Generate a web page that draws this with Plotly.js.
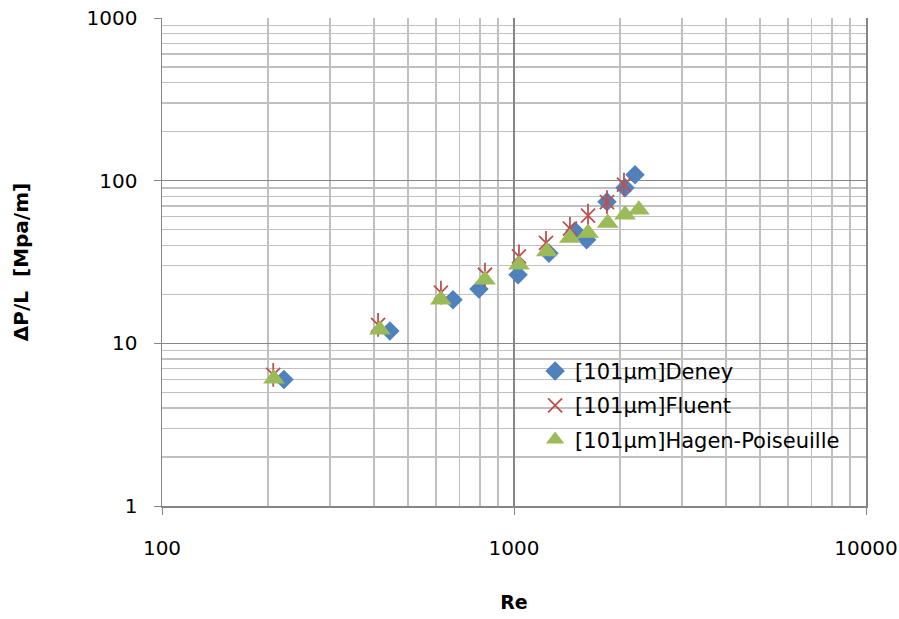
<!DOCTYPE html>
<html>
<head>
<meta charset="utf-8">
<script src="https://cdn.plot.ly/plotly-3.0.1.min.js"></script>
<style>html,body{margin:0;padding:0;background:#fff;}#chart{width:899px;height:619px;}</style>
</head>
<body>
<div id="chart"></div>
<script>
const deneyRe = [222, 444, 671, 795, 1027, 1257, 1490, 1608, 1837, 2067, 2207];
const deneyDP = [6.0, 11.9, 18.5, 21.6, 26.4, 35.8, 49.0, 43.3, 74.2, 90.6, 108.9];
const fluentRe = [207, 411, 620, 827, 1033, 1233, 1442, 1623, 1837, 2053];
const fluentDP = [6.4, 13.0, 20.5, 26.4, 34.2, 41.4, 50.7, 60.9, 73.8, 94.5];
const hpRe = [208, 416, 620, 827, 1033, 1240, 1442, 1623, 1846, 2067, 2263];
const hpDP = [6.05, 12.1, 18.5, 24.6, 30.4, 36.7, 44.4, 47.7, 54.9, 61.8, 66.3];
const seriesNames = ["[101µm]Deney", "[101µm]Fluent", "[101µm]Hagen-Poiseuille"];

const traces = [
  {x: deneyRe, y: deneyDP, name: seriesNames[0], legendgroup: 'a', type: 'scatter', mode: 'markers',
   marker: {symbol: 'diamond', size: 15, color: '#4F81BD'}},
  {x: fluentRe, y: fluentDP, name: seriesNames[1], legendgroup: 'b', type: 'scatter', mode: 'markers',
   marker: {symbol: 'x-thin-open', size: 14, color: '#C0504D', line: {color: '#C0504D', width: 1.8}}},
  {x: fluentRe, y: fluentDP, name: seriesNames[1], legendgroup: 'b', showlegend: false, type: 'scatter', mode: 'markers',
   marker: {symbol: 'line-ns-open', size: 17, color: '#C0504D', line: {color: '#C0504D', width: 1.8}}},
  {x: hpRe, y: hpDP, name: seriesNames[2], legendgroup: 'c', type: 'scatter', mode: 'markers',
   marker: {symbol: 'triangle-up', size: 19, color: '#9BBB59'}}
];

const fontFam = 'DejaVu Sans, Liberation Sans, sans-serif';
const layout = {
  width: 899, height: 619,
  margin: {l: 162, r: 33, t: 18, b: 113},
  paper_bgcolor: '#fff', plot_bgcolor: '#fff',
  showlegend: true,
  legend: {x: 0.53, y: 0.318, xanchor: 'left', yanchor: 'top', bgcolor: 'rgba(0,0,0,0)',
           font: {family: fontFam, size: 21, color: '#000'}, tracegroupgap: 4},
  xaxis: {type: 'log', range: [2, 4], dtick: 1, tickformat: 'd',
          showline: true, linecolor: '#868686', linewidth: 1.5, mirror: false,
          ticks: 'outside', ticklen: 7, tickcolor: '#868686',
          showgrid: true, gridcolor: '#868686', gridwidth: 1.5, zeroline: false,
          minor: {dtick: 'D1', showgrid: true, gridcolor: '#C0C0C0', gridwidth: 1.3, ticks: ''},
          tickfont: {family: fontFam, size: 20, color: '#000'}, ticklabelstandoff: 16,
          title: {text: '<b>Re</b>', font: {family: fontFam, size: 19, color: '#000'}, standoff: 37}},
  yaxis: {type: 'log', range: [0, 3], dtick: 1, tickformat: 'd',
          showline: true, linecolor: '#868686', linewidth: 1.5, mirror: true,
          ticks: 'outside', ticklen: 7, tickcolor: '#868686',
          showgrid: true, gridcolor: '#868686', gridwidth: 1.5, zeroline: false,
          minor: {dtick: 'D1', showgrid: true, gridcolor: '#C0C0C0', gridwidth: 1.3, ticks: ''},
          tickfont: {family: fontFam, size: 20, color: '#000'}, ticklabelstandoff: 12,
          title: {text: '<b>ΔP/L&nbsp;&nbsp;[Mpa/m]</b>', font: {family: fontFam, size: 20, color: '#000'}, standoff: 52}}
};
Plotly.newPlot('chart', traces, layout, {displayModeBar: false, staticPlot: true});
</script>
</body>
</html>
